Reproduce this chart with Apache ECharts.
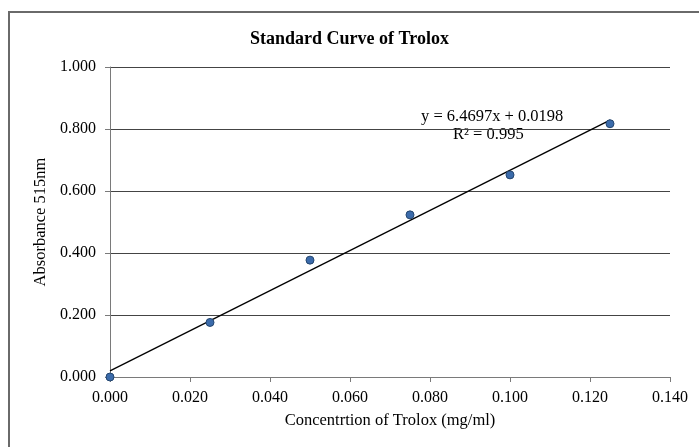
<!DOCTYPE html>
<html>
<head>
<meta charset="utf-8">
<script src="https://cdn.jsdelivr.net/npm/echarts@6/dist/echarts.min.js"></script>
<style>html,body{margin:0;padding:0;background:#fff;}#c{width:699px;height:447px;}</style>
</head>
<body>
<div id="c"></div>
<script>
const concentration = [0.000, 0.025, 0.050, 0.075, 0.100, 0.125];
const absorbance = [0.000, 0.176, 0.377, 0.523, 0.652, 0.817];
const trendX = [0.000, 0.125];
const trendY = [0.0198, 0.8285];
const xTicks = ['0.000','0.020','0.040','0.060','0.080','0.100','0.120','0.140'];
const yTicks = ['0.000','0.200','0.400','0.600','0.800','1.000'];
const equationText = 'y = 6.4697x + 0.0198';
const r2Text = 'R² = 0.995';

const chart = echarts.init(document.getElementById('c'));
const serif = '"Liberation Serif", "Times New Roman", serif';
chart.setOption({
  animation: false,
  backgroundColor: '#fff',
  title: {
    text: 'Standard Curve of Trolox',
    left: 'center', top: 25,
    textStyle: {fontFamily: serif, fontSize: 18, fontWeight: 'bold', color: '#000'}
  },
  graphic: [
    {type: 'rect', shape: {x: 9, y: 12, width: 720, height: 460},
     style: {fill: 'none', stroke: '#6a6a6a', lineWidth: 2}, silent: true, z: -1},
    {type: 'text', left: 421, top: 108, style: {text: equationText, font: '16.5px ' + serif, fill: '#000'}},
    {type: 'text', left: 453, top: 126, style: {text: r2Text, font: '16.5px ' + serif, fill: '#000'}}
  ],
  grid: {left: 110, right: 29, top: 67, bottom: 70, containLabel: false},
  xAxis: {
    type: 'value', min: 0, max: 0.14, interval: 0.02,
    name: 'Concentrtion of Trolox (mg/ml)', nameLocation: 'middle', nameGap: 35,
    nameTextStyle: {fontFamily: serif, fontSize: 16.5, color: '#000'},
    axisLine: {show: true, lineStyle: {color: '#7a7a7a', width: 1}},
    axisTick: {show: true, length: 5, lineStyle: {color: '#7a7a7a'}},
    axisLabel: {fontFamily: serif, fontSize: 16, color: '#000', margin: 13,
      formatter: (v) => xTicks[Math.round(v / 0.02)]},
    splitLine: {show: false}
  },
  yAxis: {
    type: 'value', min: 0, max: 1, interval: 0.2,
    name: 'Absorbance 515nm', nameLocation: 'middle', nameGap: 59,
    nameTextStyle: {fontFamily: serif, fontSize: 16.5, color: '#000'},
    axisLine: {show: true, lineStyle: {color: '#7a7a7a', width: 1}},
    axisTick: {show: true, length: 5, lineStyle: {color: '#7a7a7a'}},
    axisLabel: {fontFamily: serif, fontSize: 16, color: '#000', margin: 14,
      formatter: (v) => yTicks[Math.round(v / 0.2)]},
    splitLine: {show: true, lineStyle: {color: '#444', width: 1}}
  },
  series: [
    {
      type: 'line', data: trendX.map((x, i) => [x, trendY[i]]),
      symbol: 'none', lineStyle: {color: '#000', width: 1.3}, z: 2
    },
    {
      type: 'scatter', data: concentration.map((x, i) => [x, absorbance[i]]),
      symbol: 'circle', symbolSize: 8,
      itemStyle: {color: '#3b6bab', borderColor: '#24466f', borderWidth: 1, opacity: 1}, z: 3
    }
  ]
});
</script>
</body>
</html>
